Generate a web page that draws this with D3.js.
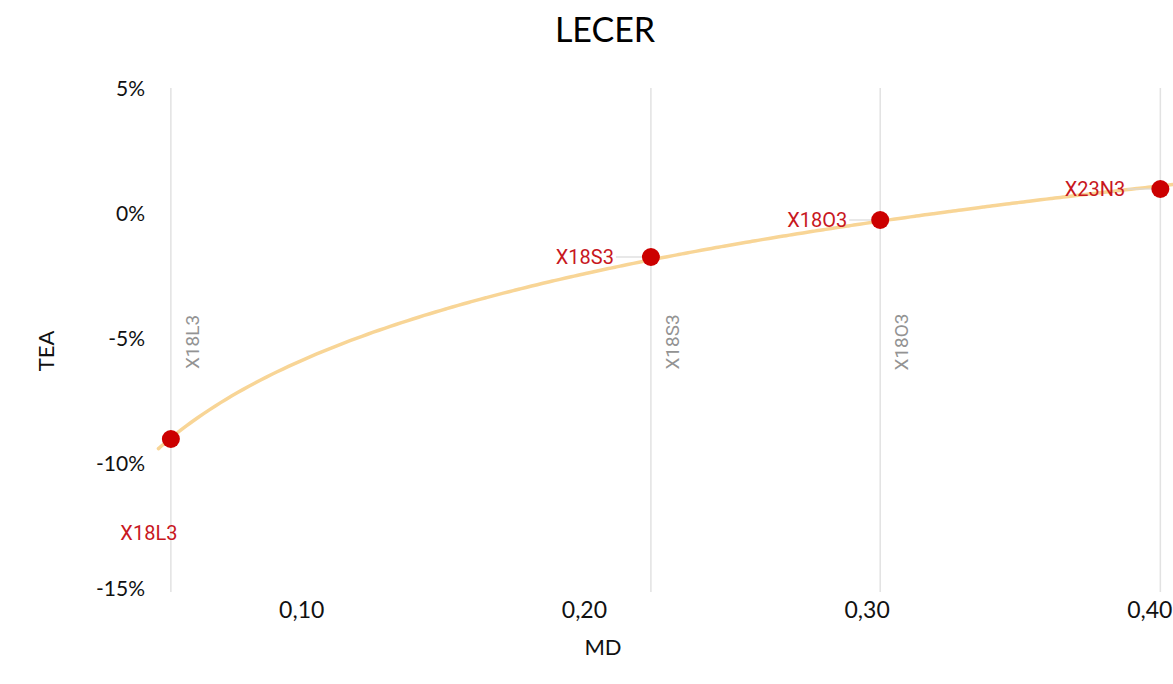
<!DOCTYPE html>
<html><head><meta charset="utf-8">
<script src="https://cdn.jsdelivr.net/npm/d3@7"></script>
<style>body{margin:0;background:#fff;} svg{display:block;}</style>
</head><body>
<svg id="chart" width="1173" height="684"></svg>
<script>
const categories = ["X18L3", "X18S3", "X18O3", "X23N3"];
const mdValues = [0.0539, 0.2237, 0.3048, 0.4039];
const teaValues = [-0.0904, -0.0176, -0.0028, 0.0096];
const xTicks = [0.10, 0.20, 0.30, 0.40];
const yTicks = [0.05, 0, -0.05, -0.10, -0.15];

const svg = d3.select("#chart");
const x = d3.scaleLinear().domain([0.05, 0.41]).range([159.85, 1177.6]);
const y = d3.scaleLinear().domain([-0.15, 0.05]).range([588, 88]);
const axisFont = "Lato, 'Open Sans', sans-serif";

// Title
svg.append("text").attr("x", 605).attr("y", 42).attr("text-anchor", "middle")
  .style("font-family", axisFont).style("font-size", "34px").attr("fill", "#000").text("LECER");

const pts = categories.map((c, i) => ({c, md: mdValues[i], tea: teaValues[i]}));

// vertical drop lines at data points
svg.append("g").selectAll("line").data(pts).join("line")
  .attr("x1", d => x(d.md)).attr("x2", d => x(d.md))
  .attr("y1", y(0.05)).attr("y2", 592)
  .attr("stroke", "#e2e2e2").attr("stroke-width", 1.5);

// rotated gray category labels
svg.append("g").selectAll("text").data(pts).join("text")
  .attr("transform", d => `translate(${x(d.md) + 28},${y(-0.05) + 4}) rotate(-90)`)
  .attr("text-anchor", "middle")
  .style("font-family", "Roboto, sans-serif").style("font-size", "19px")
  .attr("fill", "#939393").text(d => d.c);

// Y axis
const yAxis = d3.axisLeft(y).tickValues(yTicks).tickSize(0).tickPadding(0)
  .tickFormat(d => Math.round(d * 100) + "%");
const gy = svg.append("g").attr("transform", "translate(145,0)").call(yAxis);
gy.select(".domain").remove();
gy.selectAll("text").style("font-family", axisFont).style("font-size", "21px").attr("fill", "#111").attr("dy", "0.35em");

// X axis
const xAxis = d3.axisBottom(x).tickValues(xTicks).tickSize(0).tickPadding(0)
  .tickFormat(d => d.toFixed(2).replace(".", ","));
const gx = svg.append("g").attr("transform", "translate(0,602)").call(xAxis);
gx.select(".domain").remove();
gx.selectAll("text").style("font-family", axisFont).style("font-size", "23px").attr("fill", "#111").attr("dy", "0.7em");

// axis titles
svg.append("text").attr("transform", "translate(54,351) rotate(-90)").attr("text-anchor", "middle")
  .style("font-family", axisFont).style("font-size", "22px").attr("fill", "#111").text("TEA");
svg.append("text").attr("x", 603).attr("y", 655).attr("text-anchor", "middle")
  .style("font-family", axisFont).style("font-size", "22px").attr("fill", "#111").text("MD");

// logarithmic trendline (least squares on ln x)
const lx = mdValues.map(Math.log);
const mx = d3.mean(lx), my = d3.mean(teaValues);
const b = d3.sum(lx.map((v, i) => (v - mx) * (teaValues[i] - my))) / d3.sum(lx.map(v => (v - mx) ** 2));
const a = my - b * mx;
const trendX = d3.range(0.0495, 0.43, 0.002);
const line = d3.line().x(d => x(d)).y(d => y(a + b * Math.log(d))).curve(d3.curveBasis);
svg.append("path").datum(trendX).attr("d", line).attr("fill", "none")
  .attr("stroke", "#f8d596").attr("stroke-width", 3.5).attr("stroke-linecap", "round");

// leader lines and point labels
const labelLayout = {
  "X18L3": {dx: -22, dy: 101, anchor: "middle", leader: false},
  "X18S3": {dx: -37, dy: 7, anchor: "end", leader: true},
  "X18O3": {dx: -33, dy: 7, anchor: "end", leader: true},
  "X23N3": {dx: -35, dy: 7, anchor: "end", leader: true}
};
svg.append("g").selectAll("line").data(pts.filter(d => labelLayout[d.c].leader)).join("line")
  .attr("x1", d => x(d.md) + labelLayout[d.c].dx + 2).attr("x2", d => x(d.md) - 8)
  .attr("y1", d => y(d.tea)).attr("y2", d => y(d.tea))
  .attr("stroke", "#d9d9d9").attr("stroke-width", 1.2);
svg.append("g").selectAll("text").data(pts).join("text")
  .attr("x", d => x(d.md) + labelLayout[d.c].dx)
  .attr("y", d => y(d.tea) + labelLayout[d.c].dy)
  .attr("text-anchor", d => labelLayout[d.c].anchor)
  .style("font-family", "Roboto, sans-serif").style("font-size", "20px")
  .attr("fill", "#c8171e").text(d => d.c);

// points
svg.append("g").selectAll("circle").data(pts).join("circle")
  .attr("cx", d => x(d.md)).attr("cy", d => y(d.tea)).attr("r", 9)
  .attr("fill", "#cc0000");
</script>
</body></html>
